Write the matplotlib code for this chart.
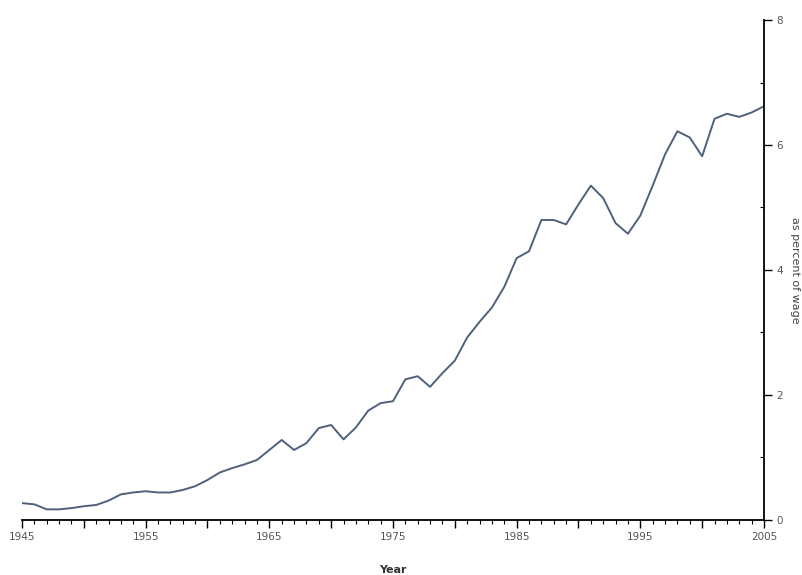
import matplotlib
matplotlib.use("Agg")
import matplotlib.pyplot as plt
from matplotlib.ticker import MultipleLocator

years = list(range(1945, 2006))
values = [
    0.27, 0.25, 0.17, 0.17, 0.19, 0.22, 0.24, 0.31, 0.41, 0.44,
    0.46, 0.44, 0.44, 0.48, 0.54, 0.64, 0.76, 0.83, 0.89, 0.96,
    1.12, 1.28, 1.12, 1.23, 1.47, 1.52, 1.29, 1.48, 1.75, 1.87,
    1.90, 2.25, 2.30, 2.13, 2.35, 2.55, 2.92, 3.17, 3.40, 3.73,
    4.19, 4.30, 4.80, 4.80, 4.73, 5.05, 5.35, 5.15, 4.75, 4.58,
    4.87, 5.35, 5.85, 6.22, 6.12, 5.82, 6.42, 6.50, 6.45, 6.52,
    6.62,
]
x_ticks = list(range(1945, 2006, 5))
x_labels = [1945, 1955, 1965, 1975, 1985, 1995, 2005]
y_labels = [0, 2, 4, 6, 8]

fig = plt.figure(figsize=(8.03, 5.75), dpi=100)
ax = fig.add_axes([0.0274, 0.0957, 0.924, 0.8695])

ax.plot(years, values, color="#50607c", linewidth=1.4)

ax.set_xlim(1945, 2005)
ax.set_ylim(0, 8)

# only bottom and right spines
ax.spines["left"].set_visible(False)
ax.spines["top"].set_visible(False)
ax.spines["bottom"].set_linewidth(1.3)
ax.spines["right"].set_linewidth(1.3)

ax.yaxis.tick_right()
ax.yaxis.set_label_position("right")

# long tick every 5 years, label every 10
ax.set_xticks(x_ticks)
ax.set_xticklabels([str(t) if t in x_labels else "" for t in x_ticks])
ax.xaxis.set_minor_locator(MultipleLocator(1))
ax.set_yticks(y_labels)
ax.set_yticklabels([str(v) for v in y_labels])
ax.yaxis.set_minor_locator(MultipleLocator(1))

ax.tick_params(axis="x", which="major", direction="out", length=6, width=1.0,
               labelsize=7.5, labelcolor="#555555", pad=3)
ax.tick_params(axis="x", which="minor", direction="out", length=3, width=0.8)
ax.tick_params(axis="y", which="major", direction="out", length=6, width=1.0,
               labelsize=7.5, labelcolor="#555555", pad=3)
ax.tick_params(axis="y", which="minor", direction="in", length=3, width=0.8)

ax.set_xlabel("Year", fontsize=8, color="#333333", fontweight="bold", labelpad=16)
ax.set_ylabel("as percent of wage", fontsize=8, color="#444444", rotation=270, labelpad=12)

fig.savefig("out.png", dpi=100)
